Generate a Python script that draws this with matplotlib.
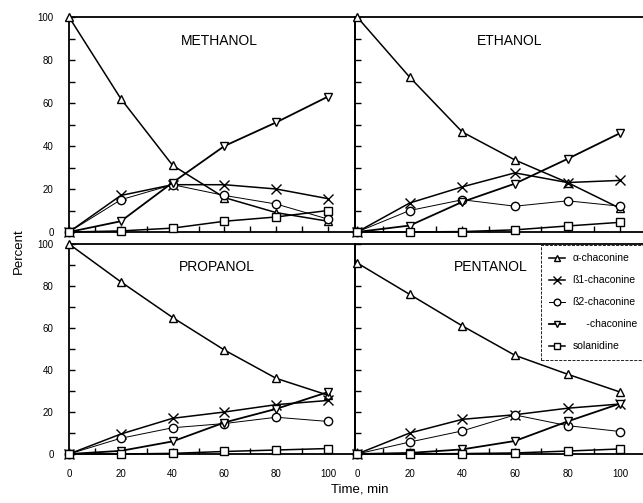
import matplotlib
matplotlib.use("Agg")
import matplotlib.pyplot as plt
from matplotlib.ticker import MultipleLocator

plt.rcParams['font.family'] = ['Liberation Sans', 'DejaVu Sans']

time_min = [0, 20, 40, 60, 80, 100]

# percent of each compound vs time, one dict per solvent
methanol = {
    "alpha": [100, 62, 31, 16, 9, 5],
    "beta1": [0, 17, 22, 22, 20, 15.5],
    "beta2": [0, 15, 22, 17, 13, 6],
    "gamma": [0, 5, 23, 40, 51, 63],
    "solanidine": [0, 0.5, 1.8, 5, 7, 10],
}
ethanol = {
    "alpha": [100, 72, 46.5, 33.5, 23, 11],
    "beta1": [0, 13.5, 21, 27.5, 23, 24],
    "beta2": [0, 10, 15, 12, 14.5, 12],
    "gamma": [0, 3, 14, 22.5, 34, 46],
    "solanidine": [0, 0, 0.2, 1, 2.8, 4.5],
}
propanol = {
    "alpha": [100, 82, 65, 49.5, 36, 28],
    "beta1": [0, 9.5, 17, 20, 23.5, 25.5],
    "beta2": [0, 7.5, 12.5, 14.5, 17.5, 15.5],
    "gamma": [0, 1.5, 6, 15, 21.5, 29.5],
    "solanidine": [0, 0, 0.3, 1.2, 1.9, 2.6],
}
pentanol = {
    "alpha": [91, 76, 61, 47, 38, 29.5],
    "beta1": [0, 10, 16.5, 18.7, 21.8, 23.8],
    "beta2": [0, 5.7, 11, 18.6, 13.5, 10.7],
    "gamma": [0, 0.5, 2.2, 6.2, 15.5, 24],
    "solanidine": [0, 0, 0.2, 0.5, 1.4, 2.4],
}

series = ["alpha", "beta1", "beta2", "gamma", "solanidine"]
legend_labels = ["\u03b1-chaconine", "\u00df1-chaconine", "\u00df2-chaconine",
                 "     -chaconine", "solanidine"]
markers = {"alpha": "^", "beta1": "x", "beta2": "o", "gamma": "v", "solanidine": "s"}
line_w = {"alpha": 1.1, "beta1": 1.1, "beta2": 0.7, "gamma": 1.3, "solanidine": 1.1}

fig = plt.figure(figsize=(6.43, 5.03), dpi=100)
W, H = 643, 503

def px_axes(x0, x1, y_top, y_bot):
    return fig.add_axes([x0 / W, 1 - y_bot / H, (x1 - x0) / W, (y_bot - y_top) / H])

panels = [
    (methanol, "METHANOL", px_axes(69, 355, 17, 232), (0, 110.4), True, False, 58),
    (ethanol, "ETHANOL", px_axes(355, 643, 17, 232), (-0.8, 108.7), False, False, 58),
    (propanol, "PROPANOL", px_axes(69, 355, 244, 454), (0, 110.4), True, True, 57),
    (pentanol, "PENTANOL", px_axes(355, 643, 244, 454), (-0.8, 108.7), False, True, 51),
]

for data, name, ax, xl, ylab, xlab, tx in panels:
    handles = []
    for key in series:
        h, = ax.plot(time_min, data[key], color="black", lw=line_w[key],
                     marker=markers[key], markersize=6 if key != "beta1" else 7,
                     markerfacecolor="white", markeredgecolor="black",
                     markeredgewidth=1.0, clip_on=False, zorder=3)
        handles.append(h)
    ax.set_xlim(*xl)
    ax.set_ylim(0, 100)
    ax.xaxis.set_major_locator(MultipleLocator(20))
    ax.xaxis.set_minor_locator(MultipleLocator(10))
    ax.yaxis.set_major_locator(MultipleLocator(20))
    ax.yaxis.set_minor_locator(MultipleLocator(10))
    ax.tick_params(which="both", direction="in", length=4, width=1.0,
                   top=False, right=False, labelsize=7, pad=11)
    if not ylab:
        ax.tick_params(axis="y", labelleft=False)
    if not xlab:
        ax.tick_params(axis="x", labelbottom=False)
    for side in ["left", "bottom", "top", "right"]:
        ax.spines[side].set_linewidth(1.3)
    if xl[0] < 0:
        ax.spines["right"].set_visible(False)
    ax.text(tx, 89, name, ha="center", va="center", fontsize=10)
    ax.patch.set_alpha(0)

    if name == "PENTANOL":
        leg = ax.legend(handles, legend_labels, loc="upper right",
                        bbox_to_anchor=(1.01, 0.995), borderaxespad=0,
                        fontsize=7.5, handlelength=1.5, handletextpad=0.7,
                        labelspacing=1.15, borderpad=0.8, fancybox=False,
                        framealpha=1, markerscale=0.8)
        leg.get_frame().set_edgecolor("black")
        leg.get_frame().set_linewidth(0.6)
        leg.get_frame().set_linestyle("--")

fig.text(19 / W, 0.5, "Percent", rotation=90, ha="center", va="center", fontsize=9.5)
fig.text(360 / W, 1 - 489 / H, "Time, min", ha="center", va="center", fontsize=9.5)

fig.savefig("out.png", dpi=100)
